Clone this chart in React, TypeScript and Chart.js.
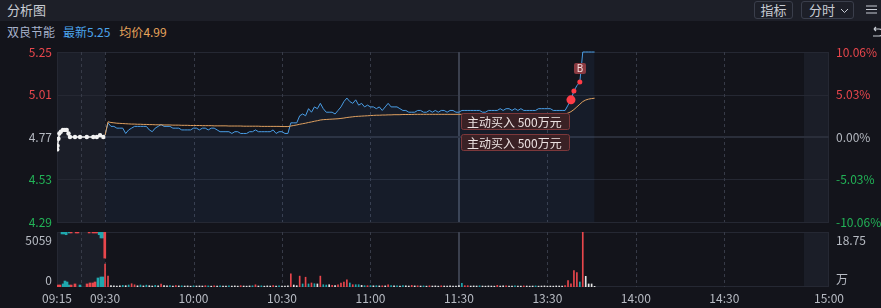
import React, { useEffect, useRef } from 'react';
import { Chart, registerables } from 'chart.js';

Chart.register(...registerables);
Chart.defaults.font.family = "'Noto Sans CJK SC', 'Noto Sans', sans-serif";
Chart.defaults.font.size = 12;

// ---------------- data ----------------
const STOCK_NAME = '双良节能';
const LAST_PRICE = 5.25;
const AVG_PRICE = 4.99;
const PRE_CLOSE = 4.77;
const PRICE_TICKS = [4.29, 4.53, 4.77, 5.01, 5.25];
const VOL_MAX = 5059;
const VOL_LABELS = ['5059', '0'];
const AMOUNT_LABELS = ['18.75', '万'];

// x unit: trading minutes after 09:30 (auction periods are stretched)
const T_START = -16.3; // 09:15
const T_AUCTION_END = -8; // 09:25
const T_OPEN = 0; // 09:30
const T_NOON = 120; // 11:30 / 13:00
const T_CLOSE_AUCTION = 237; // 14:57
const T_END = 245.5; // 15:00
const TIME_TICKS = [T_START, 0, 30, 60, 90, 120, 150, 180, 210, T_END];
const TIME_LABELS = ['09:15', '09:30', '10:00', '10:30', '11:00', '11:30', '13:30', '14:00', '14:30', '15:00'];
const DASHED_TIMES = [T_AUCTION_END, 0, 30, 60, 90, 150, 180, 210];

// pre-market auction virtual prices
const PRE_X = [-16.2, -16.1, -15.8, -15.5, -15.0, -14.3, -13.6, -13.0, -12.4, -11.9, -10.2, -8.5, -6.2, -4.0, -2.8, -1.7, -0.6];
const PRE_PRICE = [4.70, 4.72, 4.76, 4.79, 4.80, 4.81, 4.81, 4.81, 4.79, 4.77, 4.77, 4.77, 4.77, 4.77, 4.77, 4.78, 4.77];

// per-minute price from 09:30
const PRICE = [
  4.78, 4.85, 4.83, 4.83, 4.82, 4.82, 4.82, 4.79, 4.81, 4.82,
  4.83, 4.83, 4.83, 4.83, 4.83, 4.81, 4.80, 4.82, 4.83, 4.84,
  4.83, 4.83, 4.83, 4.82, 4.82, 4.82, 4.81, 4.81, 4.81, 4.81,
  4.82, 4.82, 4.81, 4.82, 4.82, 4.81, 4.82, 4.82, 4.81, 4.80,
  4.80, 4.80, 4.80, 4.79, 4.80, 4.80, 4.79, 4.79, 4.79, 4.80,
  4.80, 4.81, 4.80, 4.80, 4.80, 4.80, 4.80, 4.81, 4.79, 4.80,
  4.80, 4.79, 4.79, 4.85, 4.85, 4.85, 4.89, 4.90, 4.89, 4.93,
  4.91, 4.94, 4.93, 4.96, 4.93, 4.91, 4.91, 4.91, 4.90, 4.92,
  4.94, 4.97, 4.99, 4.97, 4.96, 4.98, 4.95, 4.96, 4.94, 4.95,
  4.94, 4.94, 4.93, 4.94, 4.92, 4.94, 4.96, 4.94, 4.94, 4.94,
  4.93, 4.92, 4.92, 4.91, 4.91, 4.91, 4.92, 4.92, 4.91, 4.91,
  4.92, 4.91, 4.92, 4.91, 4.92, 4.92, 4.91, 4.92, 4.92, 4.91,
  4.91, 4.92, 4.92, 4.92, 4.92, 4.92, 4.92, 4.92, 4.91, 4.91,
  4.92, 4.92, 4.92, 4.92, 4.93, 4.92, 4.93, 4.93, 4.92, 4.93,
  4.92, 4.93, 4.92, 4.92, 4.92, 4.92, 4.92, 4.93, 4.93, 4.93,
  4.93, 4.93, 4.92, 4.92, 4.92, 4.92, 4.92, 4.95, 4.98, 5.03,
  5.06, 5.08, 5.25, 5.25, 5.25, 5.25, 5.25,
];

// per-minute average price
const AVG = [
  4.780, 4.856, 4.852, 4.850, 4.848, 4.847, 4.846, 4.845, 4.844, 4.843,
  4.843, 4.842, 4.842, 4.841, 4.841, 4.840, 4.840, 4.839, 4.839, 4.839,
  4.838, 4.838, 4.838, 4.837, 4.837, 4.837, 4.836, 4.836, 4.836, 4.835,
  4.835, 4.835, 4.835, 4.834, 4.834, 4.834, 4.834, 4.833, 4.833, 4.833,
  4.833, 4.833, 4.832, 4.832, 4.832, 4.832, 4.832, 4.831, 4.831, 4.831,
  4.831, 4.831, 4.831, 4.830, 4.830, 4.830, 4.830, 4.830, 4.830, 4.830,
  4.829, 4.829, 4.829, 4.832, 4.835, 4.838, 4.842, 4.845, 4.848, 4.852,
  4.855, 4.859, 4.862, 4.866, 4.868, 4.869, 4.870, 4.871, 4.872, 4.873,
  4.875, 4.877, 4.880, 4.882, 4.884, 4.886, 4.887, 4.888, 4.889, 4.890,
  4.891, 4.892, 4.893, 4.893, 4.894, 4.894, 4.895, 4.895, 4.896, 4.896,
  4.896, 4.897, 4.897, 4.897, 4.897, 4.898, 4.898, 4.898, 4.898, 4.898,
  4.898, 4.898, 4.898, 4.898, 4.898, 4.898, 4.898, 4.898, 4.898, 4.898,
  4.898, 4.898, 4.898, 4.898, 4.898, 4.898, 4.899, 4.899, 4.899, 4.899,
  4.899, 4.899, 4.899, 4.899, 4.899, 4.899, 4.899, 4.899, 4.899, 4.899,
  4.899, 4.899, 4.899, 4.899, 4.899, 4.899, 4.899, 4.899, 4.899, 4.900,
  4.900, 4.900, 4.900, 4.900, 4.900, 4.900, 4.900, 4.905, 4.913, 4.925,
  4.940, 4.955, 4.970, 4.979, 4.984, 4.987, 4.989,
];

// per-minute volume (hands) and direction: r = buy, g = sell, w = neutral
const VOLUME = [
  2100, 1000, 120, 100, 90, 110, 150, 120, 180, 300,
  200, 110, 180, 100, 170, 120, 90, 150, 100, 280,
  120, 100, 140, 90, 120, 100, 110, 90, 100, 80,
  110, 90, 100, 90, 120, 100, 80, 110, 90, 100,
  90, 80, 110, 90, 100, 80, 120, 90, 80, 100,
  110, 200, 90, 110, 80, 100, 90, 120, 90, 100,
  80, 90, 100, 1200, 180, 120, 1000, 280, 900, 280,
  370, 300, 280, 1000, 210, 180, 210, 150, 120, 210,
  370, 460, 670, 370, 210, 210, 210, 150, 120, 120,
  130, 110, 120, 100, 110, 100, 210, 120, 100, 110,
  90, 120, 100, 90, 150, 100, 110, 90, 100, 80,
  110, 90, 100, 80, 110, 90, 80, 100, 90, 80,
  120, 340, 120, 120, 90, 100, 90, 110, 90, 80,
  100, 90, 80, 150, 90, 100, 110, 80, 90, 100,
  90, 80, 100, 90, 80, 90, 100, 80, 90, 100,
  80, 90, 80, 100, 90, 80, 120, 580, 300, 1500,
  1320, 460, 5059, 980, 280, 280, 60,
];
const VOL_DIR =
  'rrwwwwgwgr' + 'rwgwgwwgwr' + 'wwgwrwgwww' + 'gwwwrgwrwg' + 'wwgwwwrwww' +
  'grwgwwwrwg' + 'wwwrwwrgrg' + 'rgwrggwrwr' + 'rrrgrggwgr' + 'gwgwrwrgwg' +
  'wgwwrwrwgw' + 'rwwwrwwwww' + 'wgrrwwwgww' + 'wwwrwwrwwg' + 'wwrwwwgwww' +
  'wwwwwwrrrr' + 'rgrwwww';

// auction matched volume (bottom) and unmatched volume (hanging from top)
const PRE_VOL_X = [-15.9, -15.3, -14.2, -13.6, -12.9, -12.2, -11.5, -10.2, -8.5, -6.1, -5.1, -4.1, -3.4, -2.4, -1.4, -0.7];
const PRE_VOL = [180, 180, 280, 550, 460, 180, 180, 280, 180, 280, 370, 370, 460, 830, 920, 920];
const PRE_VOL_DIR = 'rrggggrrgrrrrggg';
const PRE_UNMATCHED_X = [-14.6, -13.9, -13.2, -12.2, -11.5, -9.8, -9.2, -5.4, -4.1, -3.4, -2.7, -2.0, -1.4, -0.7, -0.1];
const PRE_UNMATCHED = [180, 180, 250, 90, 90, 90, 90, 90, 90, 90, 90, 250, 550, 550, 2400];
const PRE_UNMATCHED_DIR = 'ggggrrrrrrrgggr';

// signals
const SIGNAL_MINUTES = [158, 159, 161];
const SIGNAL_RADIUS = [4.5, 2.5, 2.5];
const ORDER_TEXTS = ['主动买入 500万元', '主动买入 500万元'];
const B_MARK = 'B';

// ---------------- styles ----------------
const C = {
  bg: '#13141b',
  header: '#1d1f28',
  shade: '#1b1e28',
  grid: '#252833',
  dash: '#373b48',
  noon: '#3b404e',
  preClose: '#2a2e3a',
  red: '#e8464c',
  green: '#22b357',
  neutral: '#b4b8c0',
  price: '#4a9ee6',
  avg: '#dfa060',
  cyan: '#1fa8ae',
  white: '#e6e6e6',
  text: '#b7bbc3',
};
const dirColor = (d: string) => (d === 'r' ? C.red : d === 'g' ? C.cyan : C.white);
const priceColor = (v: number) =>
  Math.abs(v - PRE_CLOSE) < 1e-6 ? C.neutral : v > PRE_CLOSE ? C.red : C.green;
const pctLabel = (v: number) => ((v - PRE_CLOSE) / PRE_CLOSE * 100).toFixed(2) + '%';

const sessionPlugin = {
  id: 'session',
  beforeDatasetsDraw(chart: any, _args: any, opts: any) {
    const { ctx, chartArea: a, scales } = chart;
    const px = (t: number) => scales.x.getPixelForValue(t);
    ctx.save();
    ctx.fillStyle = C.shade;
    [[T_START, T_OPEN], [T_CLOSE_AUCTION, T_END]].forEach(([s, e]) => {
      ctx.fillRect(px(s), a.top, px(e) - px(s), a.bottom - a.top);
    });
    ctx.lineWidth = 1;
    ctx.strokeStyle = C.grid;
    const hl = (y: number) => {
      ctx.beginPath();
      ctx.moveTo(a.left, y);
      ctx.lineTo(a.right, y);
      ctx.stroke();
    };
    const vl = (x: number) => {
      ctx.beginPath();
      ctx.moveTo(x, a.top);
      ctx.lineTo(x, a.bottom);
      ctx.stroke();
    };
    if (opts.kind === 'price') {
      PRICE_TICKS.forEach((v) => {
        if (v !== PRE_CLOSE) hl(Math.round(scales.y.getPixelForValue(v)) + 0.5);
      });
    } else {
      hl(a.top + 0.5);
      hl(a.bottom - 0.5);
    }
    vl(a.left + 0.5);
    vl(a.right - 0.5);
    ctx.setLineDash([3, 3]);
    ctx.strokeStyle = C.dash;
    DASHED_TIMES.forEach((t) => vl(Math.round(px(t)) + 0.5));
    ctx.setLineDash([]);
    ctx.lineWidth = 2;
    ctx.strokeStyle = C.noon;
    vl(Math.round(px(T_NOON)));
    if (opts.kind === 'price') {
      ctx.lineWidth = 2;
      ctx.strokeStyle = C.preClose;
      hl(Math.round(scales.y.getPixelForValue(PRE_CLOSE)));
    }
    ctx.restore();
  },
};

const markerPlugin = {
  id: 'markers',
  afterDatasetsDraw(chart: any) {
    const { ctx } = chart;
    const meta = chart.getDatasetMeta(3);
    const big = meta.data[0];
    const last = meta.data[meta.data.length - 1];
    ctx.save();
    ctx.font = "12px 'Noto Sans CJK SC', sans-serif";
    ctx.textBaseline = 'middle';
    ORDER_TEXTS.forEach((txt, i) => {
      const w = 108;
      const h = 16;
      const right = Math.round(big.x) - 2;
      const top = Math.round(big.y) + 13 + i * 21;
      ctx.beginPath();
      ctx.roundRect(right - w + 0.5, top + 0.5, w, h, 2);
      ctx.fillStyle = '#3a2125';
      ctx.fill();
      ctx.strokeStyle = '#7c383b';
      ctx.lineWidth = 1;
      ctx.stroke();
      ctx.fillStyle = '#ece2e2';
      ctx.textAlign = 'left';
      ctx.fillText(txt, right - w + 6, top + h / 2 + 1);
    });
    // B mark
    const bx = Math.round(last.x) - 6;
    const by = Math.round(last.y) - 19;
    ctx.beginPath();
    ctx.roundRect(bx, by, 12, 11, 2);
    ctx.fillStyle = '#8a3a41';
    ctx.fill();
    ctx.fillStyle = '#f3dcdc';
    ctx.font = "10px 'Noto Sans', sans-serif";
    ctx.textAlign = 'center';
    ctx.fillText(B_MARK, bx + 6, by + 6);
    ctx.restore();
  },
};

const volLabelPlugin = {
  id: 'volLabels',
  afterDraw(chart: any) {
    const { ctx, chartArea: a } = chart;
    ctx.save();
    ctx.font = "12px 'Noto Sans CJK SC', sans-serif";
    ctx.fillStyle = C.text;
    ctx.textBaseline = 'middle';
    ctx.textAlign = 'right';
    ctx.fillText(VOL_LABELS[0], a.left - 5, a.top + 8);
    ctx.fillText(VOL_LABELS[1], a.left - 5, a.bottom - 7);
    ctx.textAlign = 'left';
    ctx.fillText(AMOUNT_LABELS[0], a.right + 7, a.top + 8);
    ctx.fillText(AMOUNT_LABELS[1], a.right + 7, a.bottom - 8);
    ctx.restore();
  },
};

const leftWidth = (s: any) => { s.width = 57; };
const rightWidth = (s: any) => { s.width = 52; };

function mainConfig(): any {
  const priceAxis = (pos: 'left' | 'right') => ({
    position: pos,
    min: PRICE_TICKS[0],
    max: PRICE_TICKS[PRICE_TICKS.length - 1],
    afterBuildTicks: (ax: any) => { ax.ticks = PRICE_TICKS.map((v) => ({ value: v })); },
    afterFit: pos === 'left' ? leftWidth : rightWidth,
    grid: { display: false, drawTicks: false },
    border: { display: false },
    ticks: {
      padding: pos === 'left' ? 5 : 7,
      color: (c: any) => priceColor(c.tick.value),
      callback: (v: number) => (pos === 'left' ? v.toFixed(2) : pctLabel(v)),
      font: { size: 12, lineHeight: 14 / 12 },
    },
  });
  return {
    type: 'line',
    data: {
      datasets: [
        {
          data: PRICE.map((p, i) => ({ x: i, y: p })),
          borderColor: C.price,
          borderWidth: 1,
          pointRadius: 0,
          fill: 'start',
          backgroundColor: 'rgba(70,140,220,0.07)',
          order: 3,
          clip: 2,
        },
        {
          data: AVG.map((p, i) => ({ x: i, y: p })),
          borderColor: C.avg,
          borderWidth: 1,
          pointRadius: 0,
          fill: false,
          order: 2,
        },
        {
          data: PRE_X.map((x, i) => ({ x, y: PRE_PRICE[i] })),
          borderColor: '#f2f2f2',
          borderWidth: 1.5,
          pointRadius: 2.2,
          pointBackgroundColor: '#f2f2f2',
          pointBorderWidth: 0,
          fill: false,
          order: 1,
        },
        {
          data: SIGNAL_MINUTES.map((m) => ({ x: m, y: PRICE[m] })),
          showLine: false,
          pointRadius: SIGNAL_RADIUS,
          pointBackgroundColor: '#ff3c47',
          pointBorderWidth: 0,
          order: 0,
        },
      ],
    },
    options: {
      responsive: false,
      maintainAspectRatio: false,
      animation: false,
      events: [],
      layout: { padding: 0 },
      plugins: { legend: { display: false }, tooltip: { enabled: false }, session: { kind: 'price' } },
      scales: {
        x: { type: 'linear', min: T_START, max: T_END, display: false },
        y: priceAxis('left'),
        y2: priceAxis('right'),
      },
    },
    plugins: [sessionPlugin, markerPlugin],
  };
}

function volConfig(): any {
  const barBase = { grouped: false, borderWidth: 0 };
  return {
    type: 'bar',
    data: {
      datasets: [
        {
          ...barBase,
          data: VOLUME.map((v, i) => ({ x: i, y: v })),
          backgroundColor: VOL_DIR.split('').map(dirColor),
          barThickness: 1,
        },
        {
          ...barBase,
          data: PRE_VOL_X.map((x, i) => ({ x, y: PRE_VOL[i] })),
          backgroundColor: PRE_VOL_DIR.split('').map(dirColor),
          barThickness: 2,
        },
        {
          ...barBase,
          data: PRE_UNMATCHED_X.map((x, i) => ({ x, y: [VOL_MAX - PRE_UNMATCHED[i], VOL_MAX] })),
          backgroundColor: PRE_UNMATCHED_DIR.split('').map(dirColor),
          barThickness: 2,
        },
      ],
    },
    options: {
      responsive: false,
      maintainAspectRatio: false,
      animation: false,
      events: [],
      layout: { padding: { top: 8, bottom: 0, left: 0, right: 0 } },
      plugins: { legend: { display: false }, tooltip: { enabled: false }, session: { kind: 'volume' } },
      scales: {
        x: {
          type: 'linear',
          min: T_START,
          max: T_END,
          offset: false,
          grid: { display: false, drawTicks: false, offset: false },
          border: { display: false },
          afterBuildTicks: (ax: any) => { ax.ticks = TIME_TICKS.map((v) => ({ value: v })); },
          afterFit: (s: any) => { s.height = 21; },
          ticks: {
            autoSkip: false,
            maxRotation: 0,
            minRotation: 0,
            padding: 4,
            color: C.text,
            font: { size: 12 },
            callback: (_v: number, i: number) => TIME_LABELS[i],
          },
        },
        y: {
          position: 'left',
          min: 0,
          max: VOL_MAX,
          afterFit: leftWidth,
          grid: { display: false, drawTicks: false },
          border: { display: false },
          ticks: { display: false },
        },
        y2: {
          position: 'right',
          min: 0,
          max: VOL_MAX,
          afterFit: rightWidth,
          grid: { display: false, drawTicks: false },
          border: { display: false },
          ticks: { display: false },
        },
      },
    },
    plugins: [sessionPlugin, volLabelPlugin],
  };
}

export default function App() {
  const mainRef = useRef<HTMLCanvasElement>(null);
  const volRef = useRef<HTMLCanvasElement>(null);
  useEffect(() => {
    const main = new Chart(mainRef.current as HTMLCanvasElement, mainConfig());
    const vol = new Chart(volRef.current as HTMLCanvasElement, volConfig());
    return () => {
      main.destroy();
      vol.destroy();
    };
  }, []);

  const btn: React.CSSProperties = {
    position: 'absolute',
    top: 1,
    height: 18,
    border: '1px solid #3a3e4b',
    borderRadius: 3,
    boxSizing: 'border-box',
    fontSize: 13,
    color: '#c8ccd4',
    lineHeight: '16px',
    textAlign: 'center',
  };

  return (
    <div
      style={{
        position: 'fixed',
        left: 0,
        top: 0,
        width: 881,
        height: 308,
        background: C.bg,
        overflow: 'hidden',
        fontFamily: "'Noto Sans CJK SC', 'Noto Sans', sans-serif",
      }}
    >
      <div style={{ position: 'absolute', left: 0, top: 0, width: 881, height: 21, background: C.header }}>
        <span style={{ position: 'absolute', left: 7, top: 1, fontSize: 13, lineHeight: '18px', color: '#c8ccd4' }}>
          分析图
        </span>
        <div style={{ ...btn, left: 754, width: 39 }}>指标</div>
        <div style={{ ...btn, left: 801, width: 53, textAlign: 'left', paddingLeft: 7 }}>
          分时
          <svg width="9" height="6" style={{ position: 'absolute', left: 38, top: 6 }}>
            <path d="M1 1 L4.5 4.5 L8 1" stroke="#c8ccd4" strokeWidth="1" fill="none" />
          </svg>
        </div>
        <svg width="12" height="10" style={{ position: 'absolute', left: 866, top: 5 }}>
          <path d="M0 1 H11 M0 4.5 H11 M0 8 H11" stroke="#c8ccd4" strokeWidth="1.2" />
        </svg>
      </div>
      <div
        style={{
          position: 'absolute',
          left: 7,
          top: 23,
          fontSize: 12,
          lineHeight: '18px',
          whiteSpace: 'nowrap',
        }}
      >
        <span style={{ color: '#a7b3cd' }}>{STOCK_NAME}</span>
        <span style={{ color: '#4ca5ee', marginLeft: 8 }}>最新{LAST_PRICE.toFixed(2)}</span>
        <span style={{ color: '#e8a55c', marginLeft: 9 }}>均价{AVG_PRICE.toFixed(2)}</span>
      </div>
      <svg width="12" height="14" style={{ position: 'absolute', left: 871, top: 26 }}>
        <path d="M3 3 H8 A3.5 3.5 0 0 1 8 10 H2 M3 3 L5 1 M3 3 L5 5" stroke="#c8ccd4" strokeWidth="1.2" fill="none" />
      </svg>
      <canvas
        ref={mainRef}
        width={881}
        height={198}
        style={{ position: 'absolute', left: 0, top: 38, width: 881, height: 198, display: 'block' }}
      />
      <canvas
        ref={volRef}
        width={881}
        height={84}
        style={{ position: 'absolute', left: 0, top: 224, width: 881, height: 84, display: 'block' }}
      />
    </div>
  );
}
